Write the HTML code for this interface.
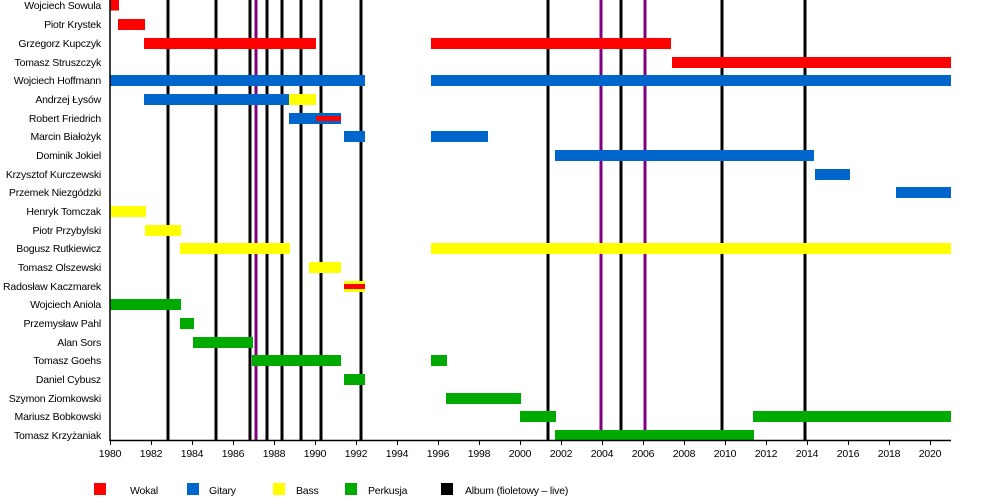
<!DOCTYPE html>
<html><head><meta charset="utf-8"><style>body{margin:0;background:#fff}svg{display:block}text{font-family:"Liberation Sans",sans-serif;font-size:10.5px;letter-spacing:-0.2px;fill:#000}</style></head>
<body>
<svg width="1000" height="500" xmlns="http://www.w3.org/2000/svg">
<g stroke-width="3">
<g stroke="#000">
<line x1="168" y1="0" x2="168" y2="440"/><line x1="216" y1="0" x2="216" y2="440"/>
<line x1="250" y1="0" x2="250" y2="440"/><line x1="267" y1="0" x2="267" y2="440"/>
<line x1="282" y1="0" x2="282" y2="440"/><line x1="301" y1="0" x2="301" y2="440"/>
<line x1="321" y1="0" x2="321" y2="440"/><line x1="361" y1="0" x2="361" y2="440"/>
<line x1="548" y1="0" x2="548" y2="440"/><line x1="621" y1="0" x2="621" y2="440"/>
<line x1="722" y1="0" x2="722" y2="440"/><line x1="805" y1="0" x2="805" y2="440"/>
</g>
<g stroke="#800080">
<line x1="256" y1="0" x2="256" y2="440"/><line x1="601" y1="0" x2="601" y2="440"/><line x1="645" y1="0" x2="645" y2="440"/>
</g>
</g>
<g>
<rect x="110" y="0" width="9" height="10.5" fill="#f00"/>
<rect x="118" y="19" width="27" height="11" fill="#f00"/>
<rect x="144" y="38" width="172" height="11" fill="#f00"/>
<rect x="431" y="38" width="240" height="11" fill="#f00"/>
<rect x="672" y="57" width="279" height="11" fill="#f00"/>
<rect x="110" y="75" width="255" height="11" fill="#0066cc"/>
<rect x="431" y="75" width="520" height="11" fill="#0066cc"/>
<rect x="144" y="94" width="145" height="11" fill="#0066cc"/>
<rect x="289" y="94" width="27" height="11" fill="#ff0"/>
<rect x="289" y="113" width="52" height="11" fill="#0066cc"/>
<rect x="316" y="116" width="25" height="5" fill="#f00"/>
<rect x="344" y="131" width="21" height="11" fill="#0066cc"/>
<rect x="431" y="131" width="57" height="11" fill="#0066cc"/>
<rect x="555" y="150" width="259" height="11" fill="#0066cc"/>
<rect x="815" y="169" width="35" height="11" fill="#0066cc"/>
<rect x="896" y="187" width="55" height="11" fill="#0066cc"/>
<rect x="110" y="206" width="36" height="11" fill="#ff0"/>
<rect x="145" y="225" width="36" height="11" fill="#ff0"/>
<rect x="180" y="243" width="110" height="11" fill="#ff0"/>
<rect x="431" y="243" width="520" height="11" fill="#ff0"/>
<rect x="309" y="262" width="32" height="11" fill="#ff0"/>
<rect x="344" y="281" width="21" height="11" fill="#ff0"/>
<rect x="344" y="284" width="21" height="5" fill="#f00"/>
<rect x="110" y="299" width="71" height="11" fill="#00aa00"/>
<rect x="180" y="318" width="14" height="11" fill="#00aa00"/>
<rect x="193" y="337" width="60" height="11" fill="#00aa00"/>
<rect x="252" y="355" width="89" height="11" fill="#00aa00"/>
<rect x="431" y="355" width="16" height="11" fill="#00aa00"/>
<rect x="344" y="374" width="21" height="11" fill="#00aa00"/>
<rect x="446" y="393" width="75" height="11" fill="#00aa00"/>
<rect x="520" y="411" width="36" height="11" fill="#00aa00"/>
<rect x="753" y="411" width="198" height="11" fill="#00aa00"/>
<rect x="555" y="430" width="199" height="10" fill="#00aa00"/>
</g>
<g stroke="#000" stroke-width="1.5">
<line x1="110" y1="0" x2="110" y2="441"/>
<line x1="110" y1="440.5" x2="951" y2="440.5"/>
</g>
<g stroke="#000" stroke-width="1">
<path d="M110.5 440v5M151.5 440v5M192.5 440v5M233.5 440v5M274.5 440v5M315.5 440v5M356.5 440v5M397.5 440v5M438.5 440v5M479.5 440v5M520.5 440v5M561.5 440v5M602.5 440v5M643.5 440v5M684.5 440v5M725.5 440v5M766.5 440v5M807.5 440v5M848.5 440v5M889.5 440v5M930.5 440v5"/>
</g>
<g text-anchor="middle">
<text x="110" y="457">1980</text><text x="151" y="457">1982</text><text x="192" y="457">1984</text><text x="233" y="457">1986</text><text x="274" y="457">1988</text><text x="315" y="457">1990</text><text x="356" y="457">1992</text><text x="397" y="457">1994</text><text x="438" y="457">1996</text><text x="479" y="457">1998</text><text x="520" y="457">2000</text><text x="561" y="457">2002</text><text x="602" y="457">2004</text><text x="643" y="457">2006</text><text x="684" y="457">2008</text><text x="725" y="457">2010</text><text x="766" y="457">2012</text><text x="807" y="457">2014</text><text x="848" y="457">2016</text><text x="889" y="457">2018</text><text x="930" y="457">2020</text>
</g>
<g text-anchor="end">
<text x="101" y="9">Wojciech Sowula</text>
<text x="101" y="28">Piotr Krystek</text>
<text x="101" y="47">Grzegorz Kupczyk</text>
<text x="101" y="66">Tomasz Struszczyk</text>
<text x="101" y="84">Wojciech Hoffmann</text>
<text x="101" y="103">Andrzej Łysów</text>
<text x="101" y="122">Robert Friedrich</text>
<text x="101" y="140">Marcin Białożyk</text>
<text x="101" y="159">Dominik Jokiel</text>
<text x="101" y="178">Krzysztof Kurczewski</text>
<text x="101" y="196">Przemek Niezgódzki</text>
<text x="101" y="215">Henryk Tomczak</text>
<text x="101" y="234">Piotr Przybylski</text>
<text x="101" y="252">Bogusz Rutkiewicz</text>
<text x="101" y="271">Tomasz Olszewski</text>
<text x="101" y="290">Radosław Kaczmarek</text>
<text x="101" y="308">Wojciech Aniola</text>
<text x="101" y="327">Przemysław Pahl</text>
<text x="101" y="346">Alan Sors</text>
<text x="101" y="364">Tomasz Goehs</text>
<text x="101" y="383">Daniel Cybusz</text>
<text x="101" y="402">Szymon Ziomkowski</text>
<text x="101" y="420">Mariusz Bobkowski</text>
<text x="101" y="439">Tomasz Krzyżaniak</text>
</g>
<rect x="94" y="483" width="12" height="12" fill="#f00"/><text x="130" y="494">Wokal</text>
<rect x="187" y="483" width="12" height="12" fill="#0066cc"/><text x="209" y="494">Gitary</text>
<rect x="273" y="483" width="12" height="12" fill="#ff0"/><text x="296" y="494">Bass</text>
<rect x="345" y="483" width="12" height="12" fill="#00aa00"/><text x="368" y="494">Perkusja</text>
<rect x="441" y="483" width="12" height="12" fill="#000"/><text x="465" y="494">Album (fioletowy – live)</text>
</svg>
</body></html>
